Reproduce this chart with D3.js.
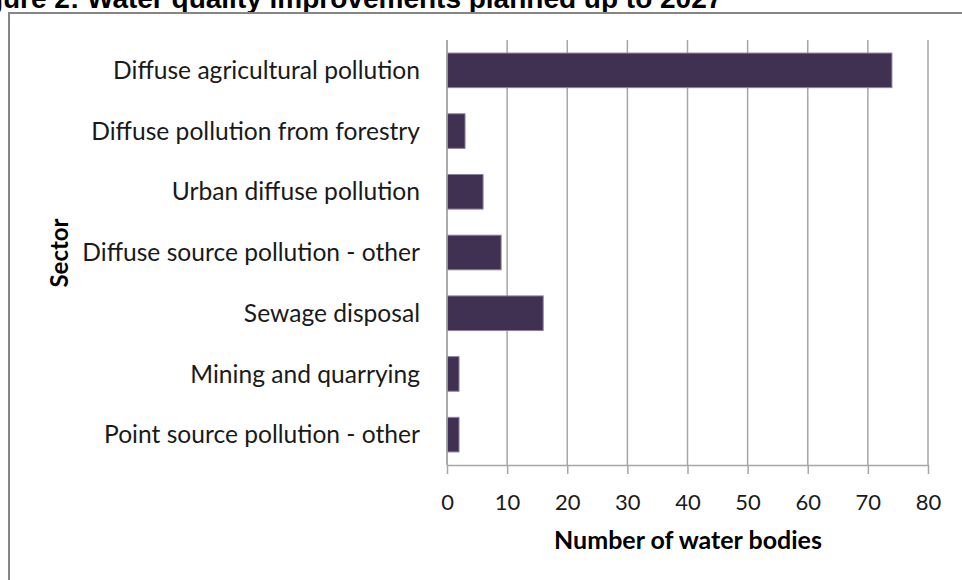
<!DOCTYPE html>
<html>
<head>
<meta charset="utf-8">
<script src="https://cdn.jsdelivr.net/npm/d3@7"></script>
<style>
  html, body { margin: 0; padding: 0; background: #fff; }
  svg { display: block; }
</style>
</head>
<body>
<svg id="chart" width="962" height="580"></svg>
<script>
// Sectors and the number of water bodies where improvements are planned
const sectors = [
  "Diffuse agricultural pollution",
  "Diffuse pollution from forestry",
  "Urban diffuse pollution",
  "Diffuse source pollution - other",
  "Sewage disposal",
  "Mining and quarrying",
  "Point source pollution - other"
];
const waterBodies = [74, 3, 6, 9, 16, 2, 2];
const xTicks = [0, 10, 20, 30, 40, 50, 60, 70, 80];

const svg = d3.select("#chart");
const labelFont = "Lato, 'Open Sans', sans-serif";

// Figure caption (runs off the top-left edge of the page)
svg.append("text")
  .attr("x", -39).attr("y", 8)
  .attr("font-family", "'Liberation Sans', Arial, sans-serif")
  .attr("font-weight", "bold")
  .attr("font-size", 28)
  .attr("fill", "#000")
  .text("Figure 2: Water quality improvements planned up to 2027");

// Chart area frame
svg.append("rect")
  .attr("x", 9).attr("y", 13)
  .attr("width", 980).attr("height", 600)
  .attr("fill", "#fff")
  .attr("stroke", "#868686")
  .attr("stroke-width", 2);

const plot = { left: 447, right: 928, top: 40, bottom: 465 };

const x = d3.scaleLinear().domain([0, 80]).range([plot.left, plot.right]);
const y = d3.scaleBand().domain(sectors).range([plot.top, plot.bottom])
  .paddingInner(0.43).paddingOuter(0.215);

// Vertical gridlines
svg.append("g")
  .selectAll("line")
  .data(xTicks)
  .join("line")
  .attr("x1", d => x(d)).attr("x2", d => x(d))
  .attr("y1", plot.top).attr("y2", plot.bottom)
  .attr("stroke", "#a6a6a6")
  .attr("stroke-width", 1.5);

// Bars
svg.append("g")
  .selectAll("rect")
  .data(sectors)
  .join("rect")
  .attr("x", x(0))
  .attr("y", d => y(d))
  .attr("width", (d, i) => x(waterBodies[i]) - x(0))
  .attr("height", y.bandwidth())
  .attr("fill", "#403152")
  .attr("stroke", "#8c82a0")
  .attr("stroke-width", 1);

// Value axis along the bottom
const xAxis = svg.append("g")
  .attr("transform", `translate(0,${plot.bottom})`)
  .call(d3.axisBottom(x).tickValues(xTicks).tickSize(9).tickPadding(20).tickSizeOuter(0));
xAxis.select(".domain").attr("stroke", "#a6a6a6").attr("stroke-width", 1.5);
xAxis.selectAll(".tick line").attr("stroke", "#a6a6a6").attr("stroke-width", 1.5);
xAxis.selectAll(".tick text")
  .attr("font-family", labelFont)
  .attr("font-size", 22)
  .attr("fill", "#1a1a1a");

// Category axis line
svg.append("line")
  .attr("x1", plot.left).attr("x2", plot.left)
  .attr("y1", plot.top).attr("y2", plot.bottom)
  .attr("stroke", "#a6a6a6").attr("stroke-width", 1.5);

// Category labels
svg.append("g")
  .selectAll("text")
  .data(sectors)
  .join("text")
  .attr("x", 420)
  .attr("y", d => y(d) + y.bandwidth() / 2)
  .attr("dy", "0.35em")
  .attr("text-anchor", "end")
  .attr("font-family", labelFont)
  .attr("font-size", 24.6)
  .attr("fill", "#1a1a1a")
  .text(d => d);

// Axis titles
svg.append("text")
  .attr("x", 688).attr("y", 549)
  .attr("text-anchor", "middle")
  .attr("font-family", labelFont)
  .attr("font-weight", "bold")
  .attr("font-size", 25)
  .attr("fill", "#000")
  .text("Number of water bodies");

svg.append("text")
  .attr("transform", "translate(68,253) rotate(-90)")
  .attr("text-anchor", "middle")
  .attr("font-family", labelFont)
  .attr("font-weight", "bold")
  .attr("font-size", 24)
  .attr("fill", "#000")
  .text("Sector");
</script>
</body>
</html>
